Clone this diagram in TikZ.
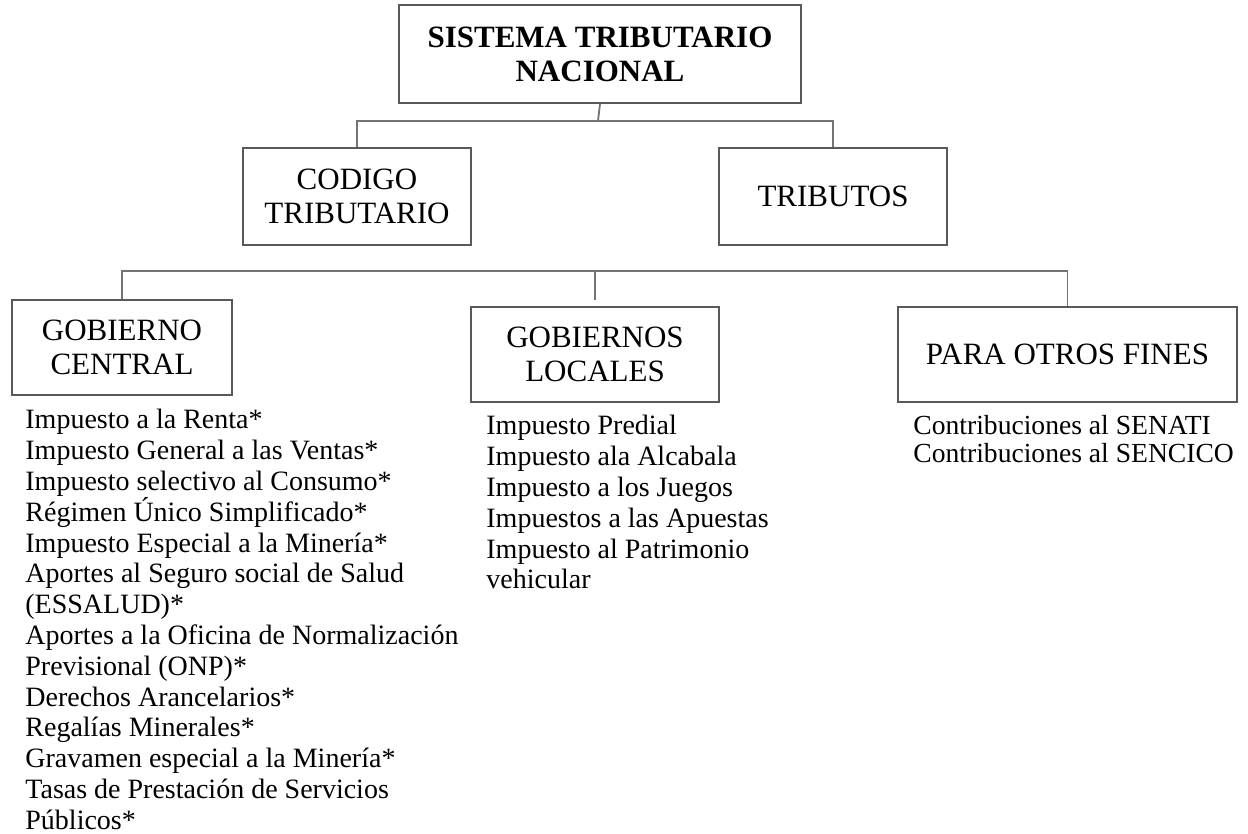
\documentclass[tikz,border=0pt]{standalone}
\usepackage{fontspec}
\setmainfont{Liberation Serif}
\usetikzlibrary{positioning}
\tikzset{
	box/.style={draw=black!65, line width=0.9pt, align=center, inner sep=0pt,
		font=\fontsize{15.5}{16.8}\selectfont},
	link/.style={draw=black!55, line width=0.9pt},
	itemlist/.style={align=left, anchor=north west, inner sep=0pt,
		font=\fontsize{14}{15.4}\selectfont},
}

\begin{document}
\begin{tikzpicture}[x=0.5pt, y=-0.5pt]
	\useasboundingbox (0,0) rectangle (1248,834);
	% boxes
	\node[box, minimum width=201pt, minimum height=49pt,
		font=\bfseries\fontsize{15.5}{17}\selectfont] (sistema) at (600,54) {SISTEMA TRIBUTARIO\\NACIONAL};
	\node[box, minimum width=114pt, minimum height=48.5pt] (codigo) at (357,196.5) {CODIGO\\TRIBUTARIO};
	\node[box, minimum width=114pt, minimum height=48.5pt] (tributos) at (833,196.5) {TRIBUTOS};
	\node[box, minimum width=110pt, minimum height=47.5pt] (central) at (122,347.5) {GOBIERNO\\CENTRAL};
	\node[box, minimum width=124pt, minimum height=47.5pt] (locales) at (595,354.5) {GOBIERNOS\\LOCALES};
	\node[box, minimum width=169.5pt, minimum height=47.5pt] (otros) at (1067.5,354.5) {PARA OTROS FINES};
	% connectors
	\coordinate (top) at (598,121);
	\coordinate (mid) at (595,271);
	\draw[link] (sistema.south) -- (top);
	\draw[link] (codigo.north) |- (top) -| (tributos.north);
	\draw[link] (central.north) |- (mid) -| (otros.north);
	\draw[link, shorten >=3pt] (mid) -- (locales.north);
	% lists
	\node[itemlist] (central-list) at (25,409) {Impuesto a la Renta*\\
		Impuesto General a las Ventas*\\
		Impuesto selectivo al Consumo*\\
		Régimen Único Simplificado*\\
		Impuesto Especial a la Minería*\\
		Aportes al Seguro social de Salud\\
		(ESSALUD)*\\
		Aportes a la Oficina de Normalización\\
		Previsional (ONP)*\\
		Derechos Arancelarios*\\
		Regalías Minerales*\\
		Gravamen especial a la Minería*\\
		Tasas de Prestación de Servicios\\
		Públicos*};
	\node[itemlist] (locales-list) at (486,415) {Impuesto Predial\\
		Impuesto ala Alcabala\\
		Impuesto a los Juegos\\
		Impuestos a las Apuestas\\
		Impuesto al Patrimonio\\
		vehicular};
	\node[itemlist, font=\fontsize{13.8}{14}\selectfont] (otros-list) at (913,415) {Contribuciones al SENATI\\
		Contribuciones al SENCICO};
\end{tikzpicture}
\end{document}
